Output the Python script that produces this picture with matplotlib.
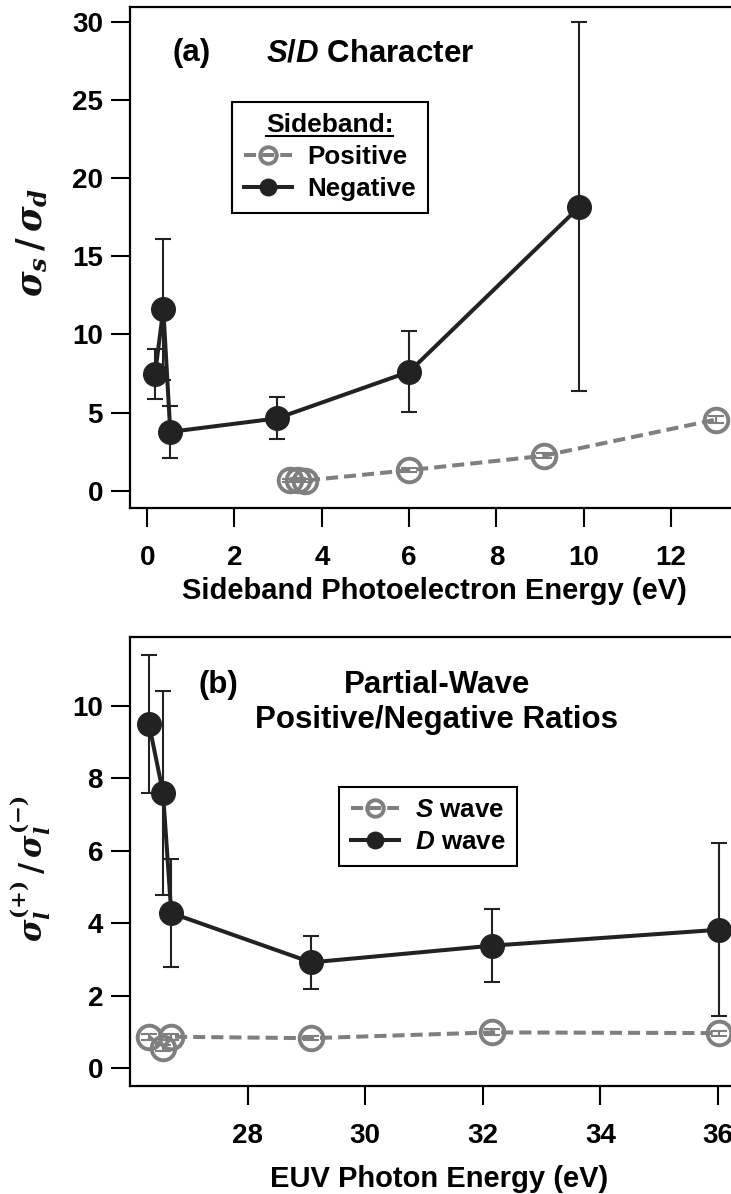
import matplotlib
matplotlib.use('Agg')
import matplotlib.pyplot as plt
from matplotlib.lines import Line2D

plt.rcParams['font.family'] = 'Liberation Sans'
plt.rcParams['font.weight'] = 'bold'
plt.rcParams['axes.labelweight'] = 'bold'
plt.rcParams['mathtext.fontset'] = 'custom'
plt.rcParams['mathtext.rm'] = 'Liberation Sans:bold'
plt.rcParams['mathtext.it'] = 'Liberation Sans:italic:bold'
plt.rcParams['mathtext.bf'] = 'Liberation Sans:bold'

DARK = '#222222'
GRAY = '#7f7f7f'

# (a) S/D character vs sideband photoelectron energy (eV)
neg_energy = [0.18, 0.37, 0.53, 2.97, 6.0, 9.90]
neg_ratio = [7.46, 11.6, 3.77, 4.63, 7.61, 18.16]
neg_err = [1.62, 4.5, 1.65, 1.34, 2.58, 11.8]
pos_energy = [3.27, 3.45, 3.62, 6.0, 9.08, 13.03]
pos_ratio = [0.68, 0.72, 0.66, 1.32, 2.24, 4.56]
pos_err = [0.1, 0.1, 0.1, 0.12, 0.15, 0.25]

# (b) positive/negative partial-wave ratios vs EUV photon energy (eV)
photon = [26.32, 26.56, 26.70, 29.08, 32.15, 36.02]
d_ratio = [9.5, 7.59, 4.28, 2.92, 3.38, 3.82]
d_err = [1.9, 2.8, 1.5, 0.73, 1.0, 2.38]
s_ratio = [0.87, 0.55, 0.87, 0.83, 0.99, 0.97]
s_err = [0.08, 0.08, 0.08, 0.06, 0.08, 0.07]

xticks_a = [0, 2, 4, 6, 8, 10, 12]
yticks_a = [0, 5, 10, 15, 20, 25, 30]
xticks_b = [28, 30, 32, 34, 36]
yticks_b = [0, 2, 4, 6, 8, 10]

fig = plt.figure(figsize=(7.31, 11.94), dpi=100)
ax1 = fig.add_axes([0.178, 0.5745, 0.822, 0.4199])
ax2 = fig.add_axes([0.178, 0.0907, 0.822, 0.3761])


def draw_series(ax, x, y, err, color, filled, dashed, label):
    ax.errorbar(x, y, yerr=err, fmt='none', ecolor=color, elinewidth=1.5,
                capsize=5.5, capthick=1.5, zorder=2)
    kw = dict(color=color, lw=2.9, marker='o', ms=17, label=label, zorder=3)
    if filled:
        kw.update(mfc=color, mec=color, mew=1)
    else:
        kw.update(mfc='none', mec=color, mew=2.8)
    line, = ax.plot(x, y, **kw)
    if dashed:
        line.set_dashes([3, 1.5])
    return line


def style_axes(ax, xticks, yticks, xlim, ylim):
    ax.set_xlim(*xlim)
    ax.set_ylim(*ylim)
    ax.set_xticks(xticks)
    ax.set_yticks(yticks)
    ax.spines['right'].set_visible(False)
    for s in ['left', 'bottom', 'top']:
        ax.spines[s].set_linewidth(1.6)
    ax.tick_params(axis='both', direction='out', length=13.5, width=1.5,
                   labelsize=20)
    ax.tick_params(axis='x', pad=13)
    ax.tick_params(axis='y', pad=6)


legend_kw = dict(loc='upper left', borderaxespad=0, fontsize=18.7,
                 markerscale=0.7, numpoints=1, handlelength=1.85,
                 handletextpad=0.6, labelspacing=0.3, borderpad=0.45,
                 fancybox=False, edgecolor='black', framealpha=1)

# panel (a)
draw_series(ax1, pos_energy, pos_ratio, pos_err, GRAY, False, True, 'Positive')
draw_series(ax1, neg_energy, neg_ratio, neg_err, DARK, True, False, 'Negative')
style_axes(ax1, xticks_a, yticks_a, (-0.39, 13.37), (-1.1, 30.95))
ax1.set_xlabel('Sideband Photoelectron Energy (eV)', fontsize=21)
ax1.xaxis.set_label_coords(0.506, -0.138)
ax1.text(0.0705, 0.9076, '(a)', transform=ax1.transAxes, fontsize=22.5,
         va='center', ha='left')
ax1.text(0.2258, 0.9076, r'$\it{S/D}$ Character', transform=ax1.transAxes,
         fontsize=22.5, va='center', ha='left')
leg1 = ax1.legend(bbox_to_anchor=(0.1694, 0.8105), title='Sideband:',
                  title_fontsize=19, **legend_kw)
leg1.get_frame().set_linewidth(1.5)
leg1.get_title().set_fontweight('bold')

# panel (b)
draw_series(ax2, photon, s_ratio, s_err, GRAY, False, True, r'$\it{S}$ wave')
draw_series(ax2, photon, d_ratio, d_err, DARK, True, False, r'$\it{D}$ wave')
style_axes(ax2, xticks_b, yticks_b, (26.0, 36.22), (-0.48, 11.9))
ax2.set_xlabel('EUV Photon Energy (eV)', fontsize=21)
ax2.xaxis.set_label_coords(0.515, -0.177)
ax2.text(0.113, 0.8924, '(b)', transform=ax2.transAxes, fontsize=22.5,
         va='center', ha='left')
ax2.text(0.51, 0.8537, 'Partial-Wave\nPositive/Negative Ratios',
         transform=ax2.transAxes, fontsize=22.5, va='center', ha='center',
         linespacing=1.2)
leg2 = ax2.legend(bbox_to_anchor=(0.3484, 0.666), **legend_kw)
leg2.get_frame().set_linewidth(1.5)

# y labels
fig.text(33 / 731, 1 - 242 / 1194, r'$\boldsymbol{\sigma_s\,/\,\sigma_d}$',
         rotation=90, ha='center', va='center', fontsize=25,
         math_fontfamily='dejavuserif', color='#111111')
fig.text(30 / 731, 1 - 869 / 1194,
         r'$\boldsymbol{\sigma_l^{(+)}\,/\,\sigma_l^{(-)}}$',
         rotation=90, ha='center', va='center', fontsize=22,
         math_fontfamily='dejavuserif', color='#111111')

# underline the legend title
fig.canvas.draw()
bb = leg1.get_title().get_window_extent().transformed(fig.transFigure.inverted())
fig.add_artist(Line2D([bb.x0, bb.x1], [bb.y0 + 0.001, bb.y0 + 0.001],
                      transform=fig.transFigure, color='black', lw=1.5))

fig.savefig('out.png', dpi=100)
